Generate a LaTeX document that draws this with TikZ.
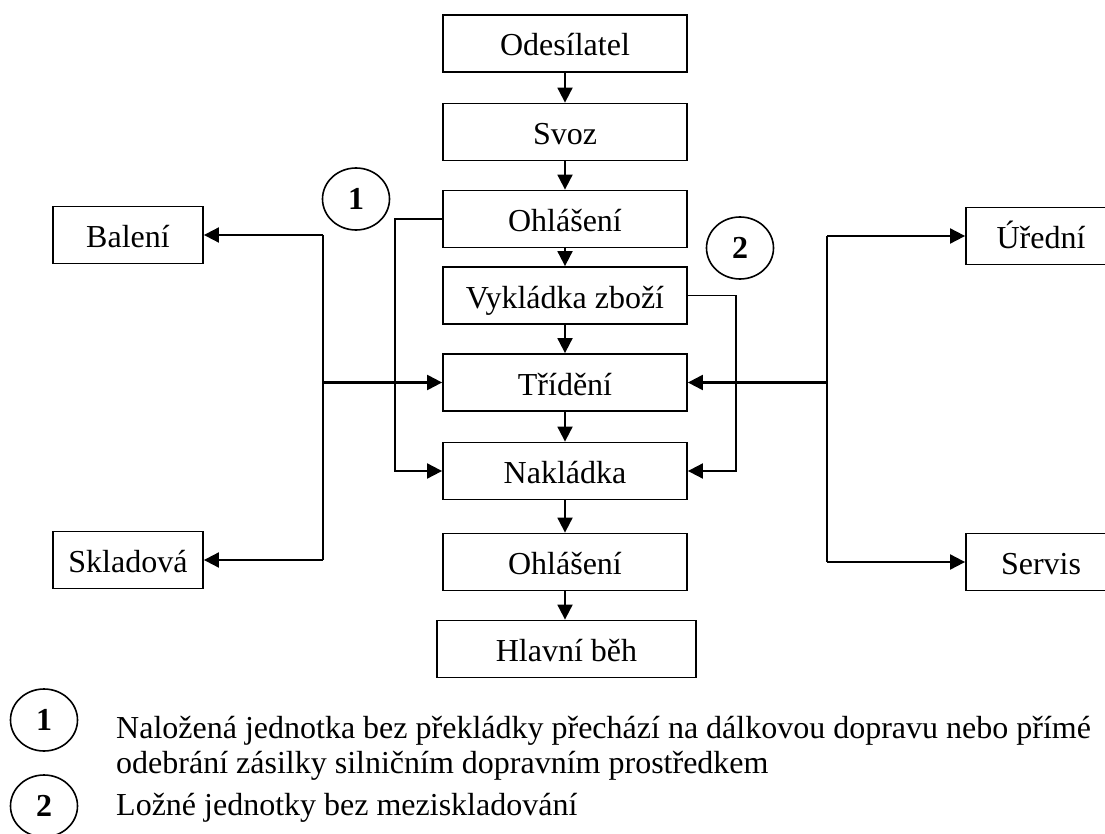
\documentclass[tikz,border=0pt]{standalone}
\usepackage{fontspec}
\setmainfont{Liberation Serif}
\usetikzlibrary{arrows.meta,shapes.geometric}
\begin{document}
\begin{tikzpicture}[x=1pt,y=-1pt,
  font=\fontsize{32}{38}\selectfont,
  box/.style={draw, line width=1.8pt, minimum height=57pt, inner sep=0pt, text height=30pt, text depth=5pt, anchor=center},
  cbox/.style={box, minimum width=244pt},
  sbox/.style={box, minimum width=150pt},
  num/.style={draw, ellipse, line width=1.6pt, minimum width=67pt, minimum height=62pt, inner sep=0pt, font=\fontsize{32}{38}\selectfont\bfseries},
  conn/.style={line width=1.9pt},
  arr/.style={conn, -{Triangle[length=15pt,width=15pt]}},
  legend/.style={anchor=base west, inner sep=0pt}
]
\useasboundingbox (0,0) rectangle (1105,834);

\node[cbox] (ode)  at (565,43.5) {Odesílatel};
\node[cbox] (svoz) at (565,132) {Svoz};
\node[cbox] (ohl1) at (565,219) {Ohlášení};
\node[cbox] (vyk)  at (565,295.5) {Vykládka zboží};
\node[cbox] (tri)  at (565,382.5) {Třídění};
\node[cbox] (nak)  at (565,471) {Nakládka};
\node[cbox] (ohl2) at (565,562) {Ohlášení};
\node[box, minimum width=259pt] (hb) at (566.5,649) {Hlavní běh};

\node[sbox] (bal) at (128,235) {Balení};
\node[sbox] (skl) at (128,560) {Skladová};
\node[sbox] (ure) at (1041,236) {Úřední};
\node[sbox] (ser) at (1041,562) {Servis};

\node[num] (c1) at (356,199) {1};
\node[num] (c2) at (740,248) {2};

\draw[arr] (ode) -- (svoz);
\draw[arr] (svoz) -- (ohl1);
\draw[arr] (ohl1) -- (vyk);
\draw[arr] (vyk) -- (tri);
\draw[arr] (tri) -- (nak);
\draw[arr] (nak) -- (ohl2);
\draw[arr] (ohl2) -- (ohl2 |- hb.north);

% left bus
\coordinate (lt) at (323,235);
\coordinate (lb) at (323,560);
\draw[conn] (lt) -- (lb);
\draw[arr] (lt) -- (bal.east);
\draw[arr] (lb) -- (skl.east);
\draw[arr, line width=2.2pt] (tri.west -| lt) -- (tri.west);

% right bus
\coordinate (rt) at (827,236);
\coordinate (rb) at (827,562);
\draw[conn] (rt) -- (rb);
\draw[arr] (rt) -- (ure.west);
\draw[arr] (rb) -- (ser.west);
\draw[arr, line width=2.2pt] (tri.east -| rt) -- (tri.east);

% bypasses
\draw[arr] (ohl1.west) -- ++(-47,0) |- (nak.west);
\draw[arr] (vyk.east) -- ++(48,0) |- (nak.east);

% legend
\node[num] (lc1) at (44,720) {1};
\node[num] (lc2) at (44,806) {2};
\node[legend] (t1) at (116,738) {Naložená jednotka bez překládky přechází na dálkovou dopravu nebo přímé};
\node[legend] (t2) at (116,773) {odebrání zásilky silničním dopravním prostředkem};
\node[legend] (t3) at (116,815) {Ložné jednotky bez meziskladování};
\end{tikzpicture}
\end{document}
